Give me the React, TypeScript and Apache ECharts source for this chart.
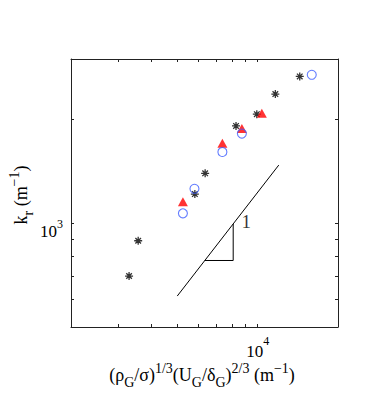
import React, { useEffect, useRef } from "react";
import * as echarts from "echarts";

// Data (x: (ρG/σ)^1/3 (UG/δG)^2/3 in m^-1, y: k_r in m^-1)
const starX = [3300, 3570, 5820, 6360, 8300, 9930, 11650, 14380];
const starY = [703, 890, 1216, 1397, 1918, 2075, 2373, 2670];
const triX = [5250, 7380, 8730, 10370];
const triY = [1156, 1709, 1884, 2089];
const circX = [5250, 5800, 7380, 8730, 15950];
const circY = [1069, 1260, 1611, 1822, 2700];
// slope-1 guide line and triangle
const guideX = [5000, 12000];
const guideY = [615, 1476];
const triangleX = [6340, 8100, 8100];
const triangleY = [780, 780, 996];
const slopeLabelX = [9060];
const slopeLabelY = [1012];
const slopeLabelText = "1";

const xTicks = [2000, 3000, 4000, 5000, 6000, 7000, 8000, 9000, 10000, 20000];
const yTicks = [500, 600, 700, 800, 900, 1000, 2000, 3000];
const xLabelTicks = [10000];
const yLabelTicks = [1000];

const FONT = "Liberation Serif";
const zip = (a: number[], b: number[]) => a.map((v, i) => [v, b[i]]);

const ASTERISK =
  "path://M5,0L5,10M0,5L10,5M1.5,1.5L8.5,8.5M1.5,8.5L8.5,1.5";

export default function App() {
  const ref = useRef<HTMLDivElement>(null);
  useEffect(() => {
    if (!ref.current) return;
    const chart = echarts.init(ref.current, null, { renderer: "svg" });
    const lineColor = "#222";
    const mkRich = (lh: number) => ({
      b: { fontFamily: FONT, fontSize: 17, color: "#000", lineHeight: lh, verticalAlign: "bottom" },
      s: { fontFamily: FONT, fontSize: 12, color: "#000", lineHeight: lh, verticalAlign: "top" },
    });
    const mkX = (pos: "bottom" | "top", labels: boolean) => ({
      type: "log",
      position: pos,
      min: 2000,
      max: 20000,
      logBase: 10,
      axisLine: { show: true, onZero: false, lineStyle: { color: lineColor, width: 1 } },
      axisTick: { show: true, inside: true, length: 3, customValues: xTicks, lineStyle: { color: lineColor } },
      axisLabel: labels
        ? {
            show: true,
            customValues: xLabelTicks,
            margin: 8,
            fontSize: 17,
            fontFamily: FONT,
            formatter: () => "{b|10}{s|4}",
            rich: mkRich(25),
          }
        : { show: false },
      splitLine: { show: false },
    });
    const mkY = (pos: "left" | "right", labels: boolean) => ({
      type: "log",
      position: pos,
      min: 500,
      max: 3000,
      logBase: 10,
      axisLine: { show: true, onZero: false, lineStyle: { color: lineColor, width: 1 } },
      axisTick: { show: true, inside: true, length: 3, customValues: yTicks, lineStyle: { color: lineColor } },
      axisLabel: labels
        ? {
            show: true,
            customValues: yLabelTicks,
            margin: 8,
            fontSize: 17,
            fontFamily: FONT,
            padding: [12, 0, 0, 0],
            formatter: () => "{b|10}{s|3}",
            rich: mkRich(22),
          }
        : { show: false },
      splitLine: { show: false },
    });
    const titleRich = {
      m: { fontFamily: FONT, fontSize: 18, color: "#000", lineHeight: 28, verticalAlign: "middle" },
      sb: { fontFamily: FONT, fontSize: 14, color: "#000", lineHeight: 28, verticalAlign: "bottom" },
      sp: { fontFamily: FONT, fontSize: 14, color: "#000", lineHeight: 28, verticalAlign: "top" },
    };
    chart.setOption({
      animation: false,
      backgroundColor: "#fff",
      grid: { left: 71, top: 59, width: 267, height: 268, containLabel: false },
      xAxis: [mkX("bottom", true), mkX("top", false)],
      yAxis: [mkY("left", true), mkY("right", false)],
      series: [
        {
          type: "line",
          data: zip(guideX, guideY),
          symbol: "none",
          lineStyle: { color: "#000", width: 1 },
          silent: true,
        },
        {
          type: "line",
          data: zip(triangleX, triangleY),
          symbol: "none",
          lineStyle: { color: "#000", width: 1 },
          silent: true,
        },
        {
          type: "scatter",
          data: zip(slopeLabelX, slopeLabelY),
          symbolSize: 0,
          label: {
            show: true,
            position: "inside",
            formatter: slopeLabelText,
            fontFamily: FONT,
            fontSize: 19,
            color: "#000",
          },
        },
        {
          type: "scatter",
          data: zip(starX, starY),
          symbol: ASTERISK,
          symbolSize: 8,
          itemStyle: { color: "rgba(0,0,0,0)", borderColor: "#000", borderWidth: 1.3 },
        },
        {
          type: "scatter",
          data: zip(triX, triY),
          symbol: "triangle",
          symbolSize: [10, 9],
          itemStyle: { color: "#ff0000" },
        },
        {
          type: "scatter",
          data: zip(circX, circY),
          symbol: "circle",
          symbolSize: 9,
          itemStyle: { color: "rgba(0,0,0,0)", borderColor: "#3c5cff", borderWidth: 1.1 },
        },
      ],
      graphic: [
        {
          type: "text",
          x: 202,
          y: 375,
          style: {
            text:
              "{m|(ρ}{sb|G}{m|/σ)}{sp|1/3}{m|(U}{sb|G}{m|/δ}{sb|G}{m|)}{sp|2/3}{m| (m}{sp|−1}{m|)}",
            align: "center",
            verticalAlign: "middle",
            rich: titleRich,
          },
        },
        {
          type: "text",
          x: 21,
          y: 195,
          rotation: Math.PI / 2,
          style: {
            text: "{m|k}{sb|r}{m| (m}{sp|−1}{m|)}",
            align: "center",
            verticalAlign: "middle",
            rich: titleRich,
          },
        },
      ],
    });
    return () => chart.dispose();
  }, []);
  return <div ref={ref} style={{ width: 374, height: 402, margin: -8 }} />;
}
